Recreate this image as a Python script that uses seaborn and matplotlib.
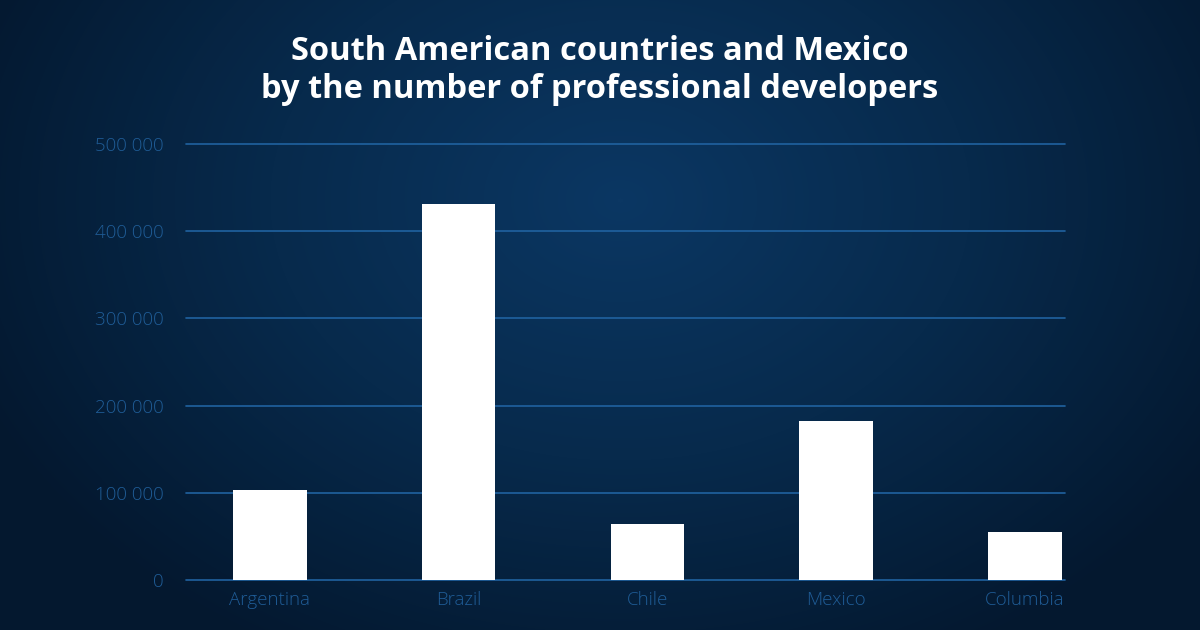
import numpy as np
import pandas as pd
import matplotlib
matplotlib.use("Agg")
import matplotlib.pyplot as plt
from matplotlib.colors import LinearSegmentedColormap
import seaborn as sns

countries = ["Argentina", "Brazil", "Chile", "Mexico", "Columbia"]
developers = [103000, 431000, 64000, 182000, 55000]
yticks = [0, 100000, 200000, 300000, 400000, 500000]
ytick_labels = ["0", "100 000", "200 000", "300 000", "400 000", "500 000"]
title = "South American countries and Mexico\nby the number of professional developers"

sns.set_theme(style="white")
plt.rcParams["font.family"] = ["Open Sans", "DejaVu Sans"]

fig = plt.figure(figsize=(12, 6.3), dpi=100)

# radial gradient background
bg = fig.add_axes([0, 0, 1, 1], zorder=-10)
h, w = 630, 1200
yy, xx = np.mgrid[0:h, 0:w]
r = np.sqrt(((xx - 620) / 700.0) ** 2 + ((yy - 200) / 520.0) ** 2)
r = np.clip(r, 0, 1)
cmap = LinearSegmentedColormap.from_list("bg", ["#0b3763", "#072a4c", "#04182f"])
bg.imshow(r, cmap=cmap, aspect="auto", extent=[0, 1, 0, 1], origin="upper")
bg.axis("off")

ax = fig.add_axes([186 / 1200, 1 - 580 / 630, (1065 - 186) / 1200, (580 - 144) / 630])
ax.patch.set_alpha(0)

df = pd.DataFrame({"country": countries, "developers": developers})
sns.barplot(data=df, x="country", y="developers", color="white", width=0.39,
            saturation=1, ax=ax, zorder=3)
for p in ax.patches:
    p.set_edgecolor("none")

ax.set_ylim(0, 500000)
ax.set_xlim(-0.444, 4.212)
ax.set_yticks(yticks)
ax.set_yticklabels(ytick_labels)
ax.grid(axis="y", color="#2062a0", linewidth=1.2, zorder=0)
ax.grid(axis="x", visible=False)
for gl in ax.get_ygridlines():
    gl.set_clip_on(False)
for s in ax.spines.values():
    s.set_visible(False)
ax.set_xlabel("")
ax.set_ylabel("")
ax.tick_params(axis="both", length=0, colors="#1f5c96", labelsize=13.5)
ax.tick_params(axis="y", pad=16)
ax.tick_params(axis="x", pad=8)
for lab in ax.get_xticklabels() + ax.get_yticklabels():
    lab.set_fontweight("light")

fig.text(0.5, 1 - 70 / 630, title, ha="center", va="center", color="white",
         fontsize=23.5, fontweight="bold", linespacing=1.2)

fig.savefig("out.png", dpi=100)
